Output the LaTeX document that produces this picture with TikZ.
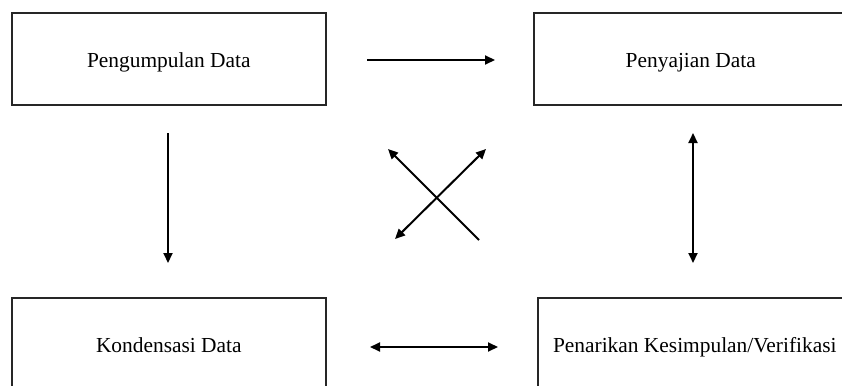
\documentclass[tikz,border=0pt]{standalone}
\usepackage{fontspec}
\setmainfont{Liberation Serif}
\usetikzlibrary{arrows.meta}
\begin{document}
\begin{tikzpicture}[x=1pt,y=-1pt,
 box/.style={draw=black!85, line width=1.6pt, minimum width=314pt, minimum height=92pt, inner sep=0pt, anchor=north west, font=\fontsize{21.4}{25}\selectfont, text height=22.7pt, text depth=4.7pt},
 arr/.style={line width=2pt, -{Triangle[length=10pt,width=9pt]}},
 darr/.style={line width=2pt, {Triangle[length=10pt,width=9pt]}-{Triangle[length=10pt,width=9pt]}}]
\useasboundingbox (0,0) rectangle (842,385);
\clip (0,0) rectangle (842,385);
\node[box] (pd) at (11,12) {Pengumpulan Data};
\node[box] (sd) at (533,12) {Penyajian Data};
\node[box] (kd) at (11,297) {Kondensasi Data};
\node[box] (pk) at (537,297) {Penarikan Kesimpulan/Verifikasi};
% arrow end points
\coordinate (a1) at (367,60); \coordinate (a2) at (495,60);
\coordinate (b1) at (168,133); \coordinate (b2) at (168,263);
\coordinate (c1) at (693,133); \coordinate (c2) at (693,263);
\coordinate (d1) at (370,347); \coordinate (d2) at (498,347);
\coordinate (e1) at (479,240); \coordinate (e2) at (388,149);
\coordinate (f1) at (395,239); \coordinate (f2) at (486,149);
\draw[arr] (a1) -- (a2);
\draw[arr] (b1) -- (b2);
\draw[darr] (c1) -- (c2);
\draw[darr] (d1) -- (d2);
\draw[arr] (e1) -- (e2);
\draw[darr] (f1) -- (f2);
\end{tikzpicture}
\end{document}
